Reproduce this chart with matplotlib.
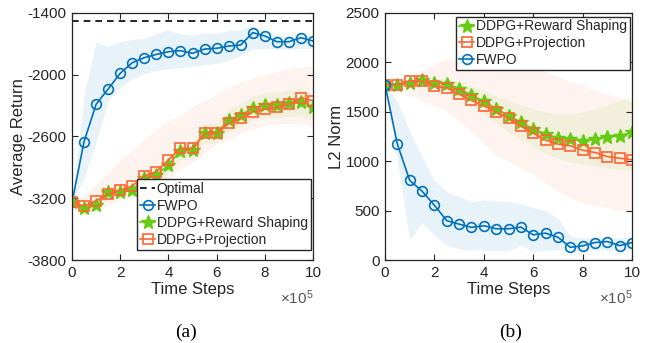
import numpy as np
import matplotlib
matplotlib.use("Agg")
import matplotlib.pyplot as plt

plt.rcParams["font.family"] = ["Liberation Sans", "DejaVu Sans"]
plt.rcParams["axes.unicode_minus"] = False
plt.rcParams["mathtext.fontset"] = "custom"
plt.rcParams["mathtext.rm"] = "Liberation Sans"
plt.rcParams["mathtext.it"] = "Liberation Sans"

# ---- data (time steps in units of 1e5) ----
steps = [0, 0.5, 1, 1.5, 2, 2.5, 3, 3.5, 4, 4.5, 5, 5.5, 6, 6.5, 7, 7.5, 8, 8.5, 9, 9.5, 10]

optimal_ret = -1475

# (a) average return
fwpo_ret = [-3240, -2650, -2287, -2138, -1986, -1883, -1834, -1802, -1776, -1766, -1792,
            -1750, -1743, -1721, -1711, -1591, -1623, -1679, -1679, -1640, -1672]
fwpo_ret_hi = [-3240, -2200, -1679, -1727, -1679, -1656, -1646, -1598, -1565, -1604, -1614,
               -1594, -1594, -1572, -1565, -1517, -1581, -1614, -1623, -1614, -1630]
fwpo_ret_lo = [-3240, -3000, -2650, -2250, -2120, -2040, -1990, -1960, -1940, -1930, -1920,
               -1900, -1890, -1860, -1810, -1750, -1745, -1750, -1750, -1745, -1745]

rs_ret = [-3240, -3298, -3266, -3136, -3136, -3120, -3006, -2974, -2877, -2738, -2731,
          -2569, -2569, -2440, -2391, -2326, -2294, -2294, -2278, -2262, -2310]
rs_ret_hi = [-3240, -3258, -3216, -3081, -3076, -3055, -2936, -2899, -2797, -2653, -2641,
             -2474, -2469, -2335, -2281, -2211, -2174, -2169, -2153, -2132, -2180]
rs_ret_lo = [-3240, -3338, -3316, -3191, -3196, -3185, -3076, -3049, -2957, -2823, -2821,
             -2664, -2669, -2545, -2501, -2441, -2414, -2419, -2403, -2392, -2440]

proj_ret = [-3240, -3275, -3224, -3159, -3120, -3081, -2984, -2942, -2828, -2715, -2715,
            -2569, -2569, -2472, -2423, -2359, -2333, -2317, -2287, -2223, -2252]
proj_ret_hi = [-3240, -3170, -3060, -2950, -2830, -2730, -2620, -2530, -2450, -2390, -2310,
               -2250, -2190, -2120, -2070, -2030, -2000, -1970, -1940, -1925, -1920]
proj_ret_lo = [-3240, -3330, -3320, -3270, -3220, -3180, -3130, -3080, -3000, -2920, -2850,
               -2760, -2680, -2620, -2570, -2530, -2490, -2475, -2470, -2480, -2500]

# (b) L2 norm
rs_l2 = [1776, 1776, 1792, 1819, 1792, 1786, 1735, 1666, 1608, 1531, 1462,
         1394, 1327, 1276, 1235, 1221, 1207, 1224, 1241, 1258, 1292]
rs_l2_hi = [1776, 1790, 1810, 1850, 1840, 1830, 1800, 1760, 1720, 1660, 1610,
            1570, 1530, 1500, 1480, 1480, 1500, 1530, 1570, 1620, 1666]
rs_l2_lo = [1776, 1760, 1770, 1780, 1750, 1720, 1650, 1560, 1480, 1390, 1290,
            1220, 1150, 1080, 1030, 990, 970, 950, 930, 915, 900]

proj_l2 = [1776, 1776, 1813, 1813, 1758, 1741, 1677, 1615, 1561, 1496, 1435,
           1354, 1282, 1214, 1173, 1156, 1112, 1088, 1047, 1030, 1015]
proj_l2_hi = [1776, 1800, 1850, 1920, 1990, 2030, 2040, 2040, 2030, 2010, 1990,
              1970, 1950, 1910, 1860, 1810, 1770, 1720, 1680, 1640, 1600]
proj_l2_lo = [1776, 1740, 1680, 1610, 1560, 1510, 1410, 1300, 1180, 1060, 1000,
              930, 867, 780, 697, 630, 578, 550, 527, 505, 493]

fwpo_l2 = [1776, 1173, 806, 697, 554, 398, 363, 330, 347, 316, 316,
           333, 255, 272, 231, 129, 143, 177, 187, 146, 177]
fwpo_l2_hi = [1776, 1600, 1300, 1050, 800, 690, 640, 590, 610, 595, 595,
              570, 530, 500, 425, 240, 225, 225, 225, 225, 225]
fwpo_l2_lo = [1776, 1000, 207, 380, 250, 150, 110, 100, 100, 95, 95,
              150, 85, 100, 100, 90, 95, 100, 100, 100, 100]

# ---- style ----
c_blue = "#0072BD"
c_orange = "#FF6633"
c_green = "#66CC11"
c_dark = "#262626"

fig = plt.figure(figsize=(6.48, 3.43), dpi=100)
ax1 = fig.add_axes([72 / 648, 83 / 343, 241 / 648, 247 / 343])
ax2 = fig.add_axes([385 / 648, 83 / 343, 247 / 648, 247 / 343])

x = np.array(steps)


def fwpo_line(ax, y):
    return ax.plot(x, y, color=c_blue, lw=1.2, marker="o", ms=7,
                   mfc="none", mec=c_blue, mew=1.2, label="FWPO")[0]


def rs_line(ax, y):
    return ax.plot(x, y, color=c_green, lw=1.2, marker="*", ms=10,
                   mfc=c_green, mec=c_green, label="DDPG+Reward Shaping")[0]


def proj_line(ax, y):
    return ax.plot(x, y, color=c_orange, lw=1.2, marker="s", ms=6.5,
                   mfc="none", mec=c_orange, mew=1.2, label="DDPG+Projection")[0]


# (a)
ax1.fill_between(x, fwpo_ret_lo, fwpo_ret_hi, color=c_blue, alpha=0.09, lw=0)
ax1.fill_between(x, proj_ret_lo, proj_ret_hi, color=c_orange, alpha=0.08, lw=0)
ax1.fill_between(x, rs_ret_lo, rs_ret_hi, color=c_green, alpha=0.08, lw=0)
h_opt = ax1.axhline(optimal_ret, color="black", ls=(0, (4, 3)), lw=1.2, label="Optimal")
h_fw = fwpo_line(ax1, fwpo_ret)
h_rs = rs_line(ax1, rs_ret)
h_pj = proj_line(ax1, proj_ret)

ax1.set_xlim(0, 10)
ax1.set_ylim(-3800, -1400)
ax1.set_yticks([-3800, -3200, -2600, -2000, -1400])
ax1.set_ylabel("Average Return", fontsize=12, color=c_dark, labelpad=1)
leg1 = ax1.legend([h_opt, h_fw, h_rs, h_pj],
                  ["Optimal", "FWPO", "DDPG+Reward Shaping", "DDPG+Projection"],
                  loc="lower right", bbox_to_anchor=(0.99, 0.04), borderaxespad=0,
                  fontsize=10, handlelength=1.1, handletextpad=0.1,
                  labelspacing=0.22, borderpad=0.2, fancybox=False,
                  edgecolor=c_dark, framealpha=1)

# (b)
ax2.fill_between(x, proj_l2_lo, proj_l2_hi, color=c_orange, alpha=0.08, lw=0)
ax2.fill_between(x, rs_l2_lo, rs_l2_hi, color=c_green, alpha=0.08, lw=0)
ax2.fill_between(x, fwpo_l2_lo, fwpo_l2_hi, color=c_blue, alpha=0.09, lw=0)
h2_rs = rs_line(ax2, rs_l2)
h2_pj = proj_line(ax2, proj_l2)
h2_fw = fwpo_line(ax2, fwpo_l2)

ax2.set_xlim(0, 10)
ax2.set_ylim(0, 2500)
ax2.set_yticks([0, 500, 1000, 1500, 2000, 2500])
ax2.set_ylabel("L2 Norm", fontsize=12, color=c_dark, labelpad=1)
leg2 = ax2.legend([h2_rs, h2_pj, h2_fw],
                  ["DDPG+Reward Shaping", "DDPG+Projection", "FWPO"],
                  loc="upper right", bbox_to_anchor=(0.99, 0.985), borderaxespad=0,
                  fontsize=10, handlelength=1.1, handletextpad=0.1,
                  labelspacing=0.2, borderpad=0.2, fancybox=False,
                  edgecolor=c_dark, framealpha=1)

for ax in (ax1, ax2):
    ax.set_xticks([0, 2, 4, 6, 8, 10])
    ax.set_xlabel("Time Steps", fontsize=12, color=c_dark, labelpad=2)
    ax.tick_params(direction="in", top=True, right=True, length=4,
                   width=0.8, labelsize=11, colors=c_dark, pad=4)
    for sp in ax.spines.values():
        sp.set_color(c_dark)
        sp.set_linewidth(0.9)
    ax.text(1.0, -0.115, r"$\times10^{5}$", transform=ax.transAxes,
            ha="right", va="top", fontsize=11, color="#555555")

for leg in (leg1, leg2):
    leg.get_frame().set_linewidth(1.0)
    for t in leg.get_texts():
        t.set_color(c_dark)

fig.text(186 / 648, 1 - 332 / 343, "(a)", family="Liberation Serif",
         fontsize=14, ha="center", va="center")
fig.text(511 / 648, 1 - 332 / 343, "(b)", family="Liberation Serif",
         fontsize=14, ha="center", va="center")

fig.savefig("out.png", dpi=100)
